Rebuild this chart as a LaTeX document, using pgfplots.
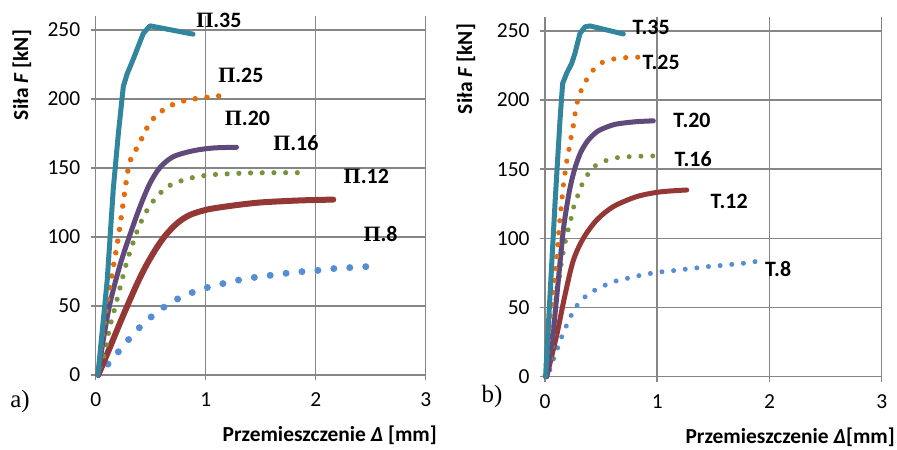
\documentclass[border=0pt]{standalone}
\usepackage{pgfplots}
\pgfplotsset{compat=1.18}
\usepackage{fontspec}
\setmainfont{Carlito}
\newfontfamily\timesf{Liberation Serif}

\definecolor{cTeal}{RGB}{49,133,156}
\definecolor{cOrange}{RGB}{228,108,10}
\definecolor{cPurple}{RGB}{96,74,123}
\definecolor{cGreen}{RGB}{119,147,60}
\definecolor{cRed}{RGB}{149,55,53}
\definecolor{cBlue}{RGB}{85,142,213}
\definecolor{cGrid}{RGB}{134,134,134}

\pgfplotsset{
  excel/.style={
    scale only axis, anchor=south west,
    xmin=0, xmax=3, ymin=0, ymax=260,
    xtick={0,1,2,3}, ytick={0,50,100,150,200,250},
    axis lines=left, axis line style={-, cGrid, line width=1.5bp},
    grid=major, grid style={cGrid, line width=1.5bp},
    tick align=outside, major tick length=5bp,
    tick style={cGrid, line width=1.5bp},
    ticklabel style={font=\fontsize{21.5}{25}\selectfont},
    yticklabel style={xshift=-7bp},
    xticklabel style={yshift=-9bp},
    /pgf/number format/assume math mode=true,
    clip=false,
  },
}
\tikzset{
  solidc/.style={line width=5bp, line join=round, line cap=round},
  lab/.style={font=\bfseries\fontsize{22}{26}\selectfont, inner sep=0pt},
}

\begin{document}
\begin{tikzpicture}
\useasboundingbox (0,0) rectangle (897bp,450bp);

% ---------- a) ----------
\begin{axis}[excel, at={(95.7bp,75bp)}, width=330bp, height=358.8bp]
% P.8
\addplot[cBlue, line width=7bp, line cap=round, dash pattern=on 0pt off 16bp, smooth] coordinates {
 (2.455,78.5) (2.309,77.8) (2.164,77.1) (2.021,75.8) (1.876,74.9) (1.73,73.7) (1.585,72.2)
 (1.442,70.7) (1.3,68.8) (1.154,66.2) (1.015,63.4) (0.878,59.8) (0.742,55) (0.621,49.2)
 (0.503,42) (0.397,34.3) (0.297,25.5) (0.206,16.8) (0.115,8.2) (0.01,0)};
% P.12
\addplot[cRed, solidc, line width=6bp, smooth] coordinates {
 (0.024,0) (0.13,20.2) (0.25,43.2) (0.37,65) (0.46,79.5) (0.555,92.3) (0.645,102.2)
 (0.75,110.6) (0.857,116) (1.009,119.8) (1.221,122.5) (1.494,125) (1.857,126.5) (2.16,127.1)};
% P.16
\addplot[cGreen, line width=5.2bp, line cap=round, dash pattern=on 0pt off 11.7bp, smooth] coordinates {
 (1.833,146.6) (1.615,146.6) (1.397,146.4) (1.179,145.7) (1.07,145.2) (0.964,144.2)
 (0.852,142.5) (0.748,139.9) (0.65,136.3) (0.57,130.4) (0.5,123.6) (0.443,116)
 (0.397,108.2) (0.358,100.2) (0.288,83.3) (0.233,67) (0.179,50) (0.124,33.3)
 (0.085,16.9) (0.04,6) (0.015,0)};
% P.20
\addplot[cPurple, solidc, smooth] coordinates {
 (0.02,0) (0.069,25.4) (0.13,52) (0.215,78) (0.3,99) (0.403,122) (0.494,139)
 (0.585,150.4) (0.705,158.2) (0.887,162.5) (1.069,164.5) (1.28,165)};
% P.25
\addplot[cOrange, line width=5.5bp, line cap=round, dash pattern=on 0pt off 11.8bp, smooth] coordinates {
 (1.118,202.2) (1.009,201.2) (0.906,200.2) (0.797,198.6) (0.694,195.7) (0.6,191.3)
 (0.518,185.3) (0.458,178) (0.412,170.3) (0.36,162.3) (0.297,150) (0.206,100) (0.1,50) (0.015,0)};
% P.35
\addplot[cTeal, solidc] coordinates {
 (0.02,0) (0.105,69) (0.16,135) (0.206,175) (0.251,209) (0.285,218) (0.342,229)
 (0.433,247.6) (0.494,253) (0.885,247)};
\node[lab] at (axis cs:1.12,257) {{\timesf П}.35};
\node[lab] at (axis cs:1.32,217) {{\timesf П}.25};
\node[lab] at (axis cs:1.38,186) {{\timesf П}.20};
\node[lab] at (axis cs:1.82,168) {{\timesf П}.16};
\node[lab] at (axis cs:2.46,144) {{\timesf П}.12};
\node[lab] at (axis cs:2.59,102) {{\timesf П}.8};
\end{axis}

% ---------- b) ----------
\begin{axis}[excel, at={(545bp,73.3bp)}, width=336.7bp, height=359.6bp]
% T.8
\addplot[cBlue, line width=5bp, line cap=round, dash pattern=on 0pt off 11.7bp, smooth] coordinates {
 (1.871,83.2) (1.767,82) (1.663,81.2) (1.556,80.3) (1.449,79.6) (1.345,78.6) (1.238,77.6)
 (1.132,76.6) (1.025,75.7) (0.915,74.3) (0.811,72.6) (0.707,70.6) (0.603,68.5) (0.505,65)
 (0.41,61) (0.327,55.5) (0.261,48.7) (0.214,40.8) (0.169,33) (0.131,24.9) (0.095,16.9)
 (0.06,9.2) (0.024,0.5) (0,0)};
% T.12
\addplot[cRed, solidc, smooth] coordinates {
 (0.015,0) (0.104,30) (0.178,59) (0.252,84) (0.341,100) (0.461,113.3) (0.609,123)
 (0.817,130.2) (1.025,133.6) (1.263,135)};
% T.16
\addplot[cGreen, line width=5bp, line cap=round, dash pattern=on 0pt off 11.8bp, smooth] coordinates {
 (0.96,159.6) (0.856,159.4) (0.749,159.1) (0.645,158.4) (0.541,156.2) (0.446,152.4)
 (0.377,145.8) (0.327,138.5) (0.288,130) (0.252,121.8) (0.229,113.3) (0.202,104.9)
 (0.178,96.5) (0.158,88) (0.14,79) (0.125,70.6) (0.104,62) (0.06,17) (0,0)};
% T.20
\addplot[cPurple, solidc, smooth] coordinates {
 (0.015,0) (0.074,33.8) (0.119,70) (0.163,106) (0.208,130) (0.238,142) (0.275,153)
 (0.32,162.5) (0.38,170.5) (0.461,177) (0.55,180.5) (0.639,182.7) (0.8,184.3) (0.965,185)};
% T.25
\addplot[cOrange, line width=5.2bp, line cap=round, dash pattern=on 0pt off 12bp, smooth] coordinates {
 (0.826,231) (0.719,230.7) (0.609,229.7) (0.505,227) (0.425,221.3) (0.365,214)
 (0.321,206.8) (0.288,198.6) (0.267,189.7) (0.252,181.3) (0.232,173) (0.214,164.4)
 (0.193,155.5) (0.178,147) (0.163,137.9) (0.131,112.3) (0.104,86.3) (0.071,60.8)
 (0.039,34.7) (0,0)};
% T.35
\addplot[cTeal, solidc] coordinates {
 (0.005,0) (0.089,125) (0.134,186) (0.157,212) (0.193,219.4) (0.238,226.6) (0.267,233.8)
 (0.312,248.3) (0.357,253) (0.401,253.6) (0.698,247.8)};
\node[lab] at (axis cs:0.945,252.8) {T.35};
\node[lab] at (axis cs:1.034,227) {T.25};
\node[lab] at (axis cs:1.31,185) {T.20};
\node[lab] at (axis cs:1.32,157.4) {T.16};
\node[lab] at (axis cs:1.64,127) {T.12};
\node[lab] at (axis cs:2.077,77.8) {T.8};
\end{axis}

% axis titles and panel letters
\node[rotate=90, font=\bfseries\fontsize{21.5}{25}\selectfont] at (22bp,375bp) {Siła \textit{F} [kN]};
\node[rotate=90, font=\bfseries\fontsize{21.5}{25}\selectfont] at (466bp,381bp) {Siła \textit{F} [kN]};
\node[anchor=east, font=\bfseries\fontsize{21.5}{25}\selectfont, inner sep=0pt] at (437bp,15bp) {Przemieszczenie \textit{Δ} [mm]};
\node[anchor=east, font=\bfseries\fontsize{21.5}{25}\selectfont, inner sep=0pt] at (895bp,13bp) {Przemieszczenie \textit{Δ}[mm]};
\node[font=\timesf\fontsize{25}{30}\selectfont] at (20bp,48bp) {a)};
\node[font=\timesf\fontsize{25}{30}\selectfont] at (492bp,53bp) {b)};
\end{tikzpicture}
\end{document}
